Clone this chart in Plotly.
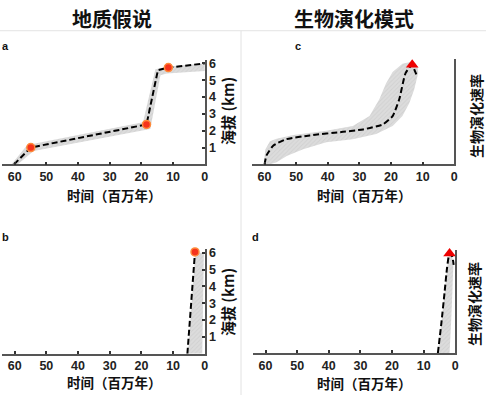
import plotly.graph_objects as go

# ---------------- data ----------------
# Panel a: geological hypothesis (elevation, km) vs time (Ma)
a_time = [60.2, 54.9, 18.4, 14.8, 11.5, 0]
a_elev = [0, 1.0, 2.37, 5.6, 5.75, 6.0]
a_dot_time = [54.9, 18.4, 11.5]
a_dot_elev = [1.0, 2.37, 5.75]
a_band_time = [61.0, 56.0, 19.5, 15.6, 11.5, 0, 0, 12.0, 14.0, 17.2, 54.0, 59.0]
a_band_elev = [0, 1.15, 2.5, 5.65, 5.82, 6.0, 5.55, 5.4, 5.3, 2.1, 0.8, 0]

# Panel b
b_time = [5.5, 3.1]
b_elev = [0, 6.05]
b_dot_time = [3.1]
b_dot_elev = [6.05]
b_band_time = [5.3, 3.0, 0.3, 0.8]
b_band_elev = [0, 6.0, 6.0, 0]

# Panel c: evolutionary rate (relative) vs time (Ma)
c_time = [60.0, 59.4, 57.2, 53.1, 45.7, 35.2, 28.9, 22.6, 19.5, 17.4, 15.4, 13.3, 12.6, 11.9]
c_rate = [0, 0.085, 0.18, 0.24, 0.276, 0.31, 0.333, 0.38, 0.46, 0.62, 0.87, 0.95, 0.90, 0.85]
c_peak_time = [13.3]
c_peak_rate = [0.95]
c_band_time = [60.2, 59.8, 58.3, 56.2, 50.9, 40.5, 32.1, 26.8, 23.7, 21.6, 19.5, 16.4, 13.2, 11.6, 11.4,
               12.7, 14.2, 16.4, 19.5, 24.7, 32.1, 40.5, 47.8, 53.0, 56.2, 58.3]
c_band_rate = [0, 0.14, 0.22, 0.245, 0.28, 0.32, 0.365, 0.46, 0.62, 0.77, 0.88, 0.96, 0.98, 0.93, 0.87,
               0.71, 0.585, 0.46, 0.365, 0.29, 0.24, 0.21, 0.145, 0.08, 0.02, 0]

# Panel d
d_time = [5.5, 4.4, 3.35, 2.6, 2.1, 1.8, 0.95, 0.5]
d_rate = [0, 0.29, 0.60, 0.83, 0.94, 0.97, 0.94, 0.86]
d_peak_time = [1.8]
d_peak_rate = [0.97]
d_band_time = [5.5, 4.4, 3.35, 2.6, 2.1, 1.8, 0.95, 0.6, 0.9, 1.3, 1.8]
d_band_rate = [0, 0.29, 0.60, 0.83, 0.94, 0.97, 0.94, 0.86, 0.6, 0.3, 0]

time_ticks = [60, 50, 40, 30, 20, 10, 0]
elev_ticks = [1, 2, 3, 4, 5, 6]

# ---------------- figure ----------------
W, H = 490, 395
LINE = dict(color="black", width=2, dash="6px,3px")
BAND = dict(fill="toself", mode="none", fillcolor="#d6d6d6",
            fillpattern=dict(shape="/", fgcolor="#c4c4c4", bgcolor="#dcdcdc", size=3, solidity=0.3))
DOT = dict(mode="markers", marker=dict(size=8, color="#f5331c", line=dict(color="#ff8a3a", width=1.5)))
TRI = dict(mode="markers", marker=dict(symbol="triangle-up", size=11, color="#ee0000"))

fig = go.Figure()

def add(tr_x, tr_y, ax, **kw):
    fig.add_trace(go.Scatter(x=tr_x, y=tr_y, xaxis=ax[0], yaxis=ax[1], showlegend=False,
                             hoverinfo="skip", cliponaxis=False, **kw))

# a
add(a_band_time, a_band_elev, ("x", "y"), **BAND)
add(a_time, a_elev, ("x", "y"), mode="lines", line=LINE)
add(a_dot_time, a_dot_elev, ("x", "y"), **DOT)
# b
add(b_band_time, b_band_elev, ("x2", "y2"), **BAND)
add(b_time, b_elev, ("x2", "y2"), mode="lines", line=LINE)
add(b_dot_time, b_dot_elev, ("x2", "y2"), **DOT)
# c
add(c_band_time, c_band_rate, ("x3", "y3"), **BAND)
add(c_time, c_rate, ("x3", "y3"), mode="lines", line=dict(LINE, shape="spline", smoothing=0.5))
add(c_peak_time, c_peak_rate, ("x3", "y3"), **TRI)
# d
add(d_band_time, d_band_rate, ("x4", "y4"), **BAND)
add(d_time, d_rate, ("x4", "y4"), mode="lines", line=dict(LINE, shape="spline", smoothing=0.5))
add(d_peak_time, d_peak_rate, ("x4", "y4"), **TRI)

TICKFONT = dict(family="Liberation Sans, Arial", size=12.5, color="#222", weight="bold")

def xaxis(dom, anchor):
    return dict(domain=[dom[0] / W, dom[1] / W], range=[64, 0], anchor=anchor,
                showline=True, linecolor="#555", linewidth=1.5, ticks="inside", ticklen=3,
                tickwidth=1.5, tickcolor="#333", tickvals=time_ticks, tickfont=TICKFONT,
                showgrid=False, zeroline=False, fixedrange=True)

def yaxis(dom, anchor, rng, ticks):
    d = dict(domain=[1 - dom[1] / H, 1 - dom[0] / H], range=rng, anchor=anchor, side="right",
             showline=True, linecolor="#555", linewidth=1.5, showgrid=False, zeroline=False,
             fixedrange=True, tickfont=TICKFONT)
    if ticks:
        d.update(ticks="inside", ticklen=3, tickwidth=1.5, tickcolor="#333", tickvals=ticks)
    else:
        d.update(ticks="", showticklabels=False)
    return d

fig.update_layout(
    width=W, height=H, margin=dict(l=0, r=0, t=0, b=0),
    paper_bgcolor="white", plot_bgcolor="white",
    xaxis=xaxis((2, 206.5), "y"),
    yaxis=yaxis((57, 162), "x", [0, 105 / 17], elev_ticks),
    xaxis2=xaxis((2, 206.5), "y2"),
    yaxis2=yaxis((248, 353.3), "x2", [0, 105.3 / 17], elev_ticks),
    xaxis3=xaxis((254, 458), "y3"),
    yaxis3=yaxis((56, 162), "x3", [0, 1], None),
    xaxis4=xaxis((255, 459), "y4"),
    yaxis4=yaxis((249, 352.7), "x4", [0, 1], None),
)

CJK = "Noto Sans CJK SC"
ann = []
def text(x, y, s, size, angle=0, family=CJK):
    ann.append(dict(x=x / W, y=1 - y / H, xref="paper", yref="paper", text=s, showarrow=False,
                    textangle=angle, xanchor="center", yanchor="middle",
                    font=dict(family=family, size=size, color="#111", weight="bold")))

text(113, 15, "地质假说", 20)
text(357, 15, "生物演化模式", 20)
for px, py, s in [(6, 42, "a"), (6, 235, "b"), (300, 42, "c"), (258, 235, "d")]:
    text(px, py, s, 11, family="Liberation Sans, Arial")
for px, py in [(115, 193), (115, 382), (368, 193), (368, 383)]:
    text(px, py, "时间（百万年）", 13.5)
text(230, 108, "海拔 (km)", 15, -90)
text(230, 301, "海拔 (km)", 15, -90)
text(480, 113, "生物演化速率", 14, -90)
text(478, 303, "生物演化速率", 14, -90)
fig.update_layout(annotations=ann)

fig.update_layout(shapes=[
    dict(type="line", xref="paper", yref="paper", x0=0, x1=1, y0=1 - 27 / H, y1=1 - 27 / H,
         line=dict(color="#e3e3e3", width=1)),
    dict(type="line", xref="paper", yref="paper", x0=243 / W, x1=243 / W, y0=0, y1=1 - 27 / H,
         line=dict(color="#e3e3e3", width=1)),
])

fig.write_html("out.html", config={"displayModeBar": False},
               post_script="document.body.style.margin='0';document.body.style.padding='0';")
